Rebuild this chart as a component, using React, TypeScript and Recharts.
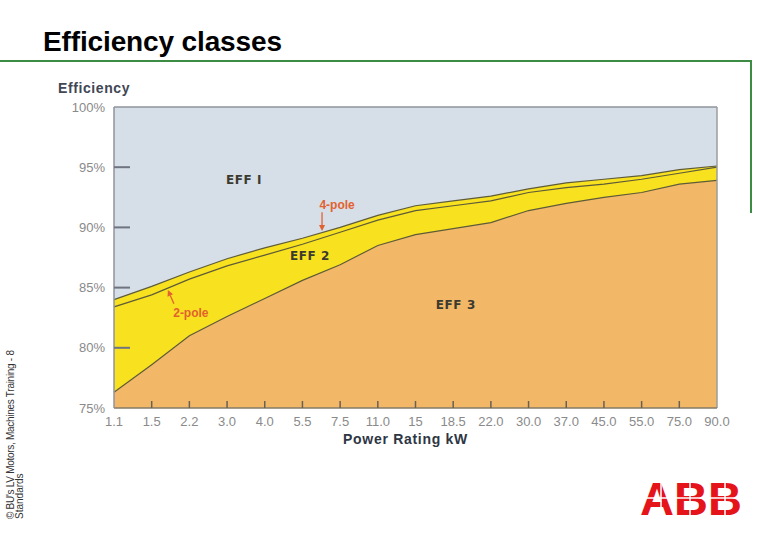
import React from 'react';
import {
  ComposedChart,
  Area,
  Line,
  XAxis,
  YAxis,
  CartesianGrid,
  ReferenceLine,
  ReferenceDot,
} from 'recharts';

// power ratings on the x axis (kW)
const powerRatings = [
  '1.1', '1.5', '2.2', '3.0', '4.0', '5.5', '7.5', '11.0', '15',
  '18.5', '22.0', '30.0', '37.0', '45.0', '55.0', '75.0', '90.0',
];

// EFF1 / EFF2 border (4-pole), %
const eff1Limit = [
  84.0, 85.1, 86.3, 87.4, 88.3, 89.1, 90.0, 91.0, 91.8,
  92.2, 92.6, 93.2, 93.7, 94.0, 94.3, 94.8, 95.1,
];

// EFF1 / EFF2 border (2-pole), %
const twoPoleLimit = [
  83.4, 84.4, 85.7, 86.8, 87.7, 88.6, 89.6, 90.6, 91.4,
  91.8, 92.2, 92.9, 93.3, 93.6, 94.0, 94.5, 95.0,
];

// EFF2 / EFF3 border, %
const eff2Limit = [
  76.3, 78.6, 81.0, 82.6, 84.1, 85.6, 86.9, 88.5, 89.4,
  89.9, 90.4, 91.4, 92.0, 92.5, 92.9, 93.6, 93.9,
];

const yTicks = [75, 80, 85, 90, 95, 100];

const data = powerRatings.map((p, i) => ({
  i,
  kw: p,
  eff1: eff1Limit[i],
  twoPole: twoPoleLimit[i],
  eff2: eff2Limit[i],
}));

const SKY = '#d6dee7';
const YELLOW = '#f8e11f';
const ORANGE = '#f2b867';
const EDGE = '#5e5b38';
const TICK_TXT = '#8a8a8a';
const POLE = '#e2622f';

const YTick = (props: any) => {
  const { x, y, payload } = props;
  return (
    <g>
      <text x={x} y={y} dy="0.35em" textAnchor="end" fontSize={13} fill={TICK_TXT}
        fontFamily="Liberation Sans, Arial, sans-serif">
        {payload.value}%
      </text>
      {payload.value > 75 && payload.value < 100 && (
        <line x1={x + 9} x2={x + 25} y1={y} y2={y} stroke="#6f7480" strokeWidth={2} />
      )}
    </g>
  );
};

const XTick = (props: any) => {
  const { x, y, payload } = props;
  return (
    <g>
      <text x={x} y={y} dy="0.75em" textAnchor="middle" fontSize={13} fill={TICK_TXT}
        fontFamily="Liberation Sans, Arial, sans-serif">
        {powerRatings[payload.value]}
      </text>
      {payload.value > 0 && payload.value < 16 && (
        <line x1={x} x2={x} y1={y - 8} y2={y - 15} stroke="#6a6152" strokeWidth={1.5} />
      )}
    </g>
  );
};

const Arrow = (props: any) => {
  const { x1, y1, x2, y2 } = props;
  const ang = Math.atan2(y2 - y1, x2 - x1);
  const len = 6;
  const w = 3;
  const bx = x2 - len * Math.cos(ang);
  const by = y2 - len * Math.sin(ang);
  const px = -Math.sin(ang) * w;
  const py = Math.cos(ang) * w;
  return (
    <g>
      <line x1={x1} y1={y1} x2={bx} y2={by} stroke={POLE} strokeWidth={1.3} />
      <polygon points={`${x2},${y2} ${bx + px},${by + py} ${bx - px},${by - py}`} fill={POLE} />
    </g>
  );
};

const effLabel = (value: string) => ({
  value,
  position: 'center' as const,
  fill: '#3b3a30',
  fontSize: 12,
  fontWeight: 'bold',
  letterSpacing: 0.6,
  fontFamily: 'DejaVu Sans, sans-serif',
});

const poleLabel = (value: string) => ({
  value,
  position: 'center' as const,
  fill: POLE,
  fontSize: 12,
  fontWeight: 'bold',
  fontFamily: 'Liberation Sans, Arial, sans-serif',
});

export default function App() {
  return (
    <div style={{ position: 'absolute', left: 0, top: 0, width: 780, height: 540, background: '#fff' }}>
      <ComposedChart
        width={780}
        height={540}
        data={data}
        margin={{ top: 107, right: 63, bottom: 106, left: 54 }}
      >
        <CartesianGrid horizontal={false} vertical={false} fill={SKY} fillOpacity={1} />
        <Area
          type="linear"
          dataKey="eff1"
          stroke={EDGE}
          strokeWidth={1.2}
          fill={YELLOW}
          fillOpacity={1}
          isAnimationActive={false}
        />
        <Line
          type="linear"
          dataKey="twoPole"
          stroke={EDGE}
          strokeWidth={1.2}
          dot={false}
          isAnimationActive={false}
        />
        <Area
          type="linear"
          dataKey="eff2"
          stroke={EDGE}
          strokeWidth={1.2}
          fill={ORANGE}
          fillOpacity={1}
          isAnimationActive={false}
        />
        <XAxis
          dataKey="i"
          type="number"
          domain={[0, 16]}
          ticks={powerRatings.map((_, i) => i)}
          interval={0}
          height={26}
          tickSize={0}
          tickMargin={8}
          tickLine={false}
          tick={<XTick />}
          axisLine={{ stroke: '#857a66', strokeWidth: 1.5 }}
          label={{
            value: 'Power Rating kW',
            position: 'bottom',
            offset: 0,
            dx: -10,
            fill: '#2e3644',
            fontSize: 14,
            fontWeight: 'bold',
            letterSpacing: 0.7,
            fontFamily: 'Liberation Sans, Arial, sans-serif',
          }}
        />
        <YAxis
          type="number"
          domain={[75, 100]}
          ticks={yTicks}
          interval={0}
          width={60}
          tickSize={0}
          tickMargin={9}
          tickLine={false}
          tick={<YTick />}
          axisLine={{ stroke: '#8f949c', strokeWidth: 1.5 }}
        />
        <ReferenceLine y={100} stroke="#8f949c" strokeWidth={1.5} />
        <ReferenceLine x={16} stroke="#9c9c9c" strokeWidth={1.5} />
        <ReferenceLine segment={[{ x: 5.52, y: 91.25 }, { x: 5.52, y: 89.7 }]} shape={<Arrow />} />
        <ReferenceLine segment={[{ x: 1.59, y: 83.65 }, { x: 1.43, y: 84.8 }]} shape={<Arrow />} />
        <ReferenceDot x={3.45} y={94.0} r={0} fill="none" stroke="none" label={effLabel('EFF I')} />
        <ReferenceDot x={5.2} y={87.65} r={0} fill="none" stroke="none" label={effLabel('EFF 2')} />
        <ReferenceDot x={9.07} y={83.6} r={0} fill="none" stroke="none" label={effLabel('EFF 3')} />
        <ReferenceDot x={5.92} y={91.85} r={0} fill="none" stroke="none" label={poleLabel('4-pole')} />
        <ReferenceDot x={2.04} y={82.9} r={0} fill="none" stroke="none" label={poleLabel('2-pole')} />
      </ComposedChart>

      <svg
        width={780}
        height={540}
        style={{ position: 'absolute', left: 0, top: 0, pointerEvents: 'none' }}
        fontFamily="Liberation Sans, Arial, sans-serif"
      >
        <text x={43} y={51} fontSize={28} fontWeight="bold" fill="#000" textLength={239}>
          Efficiency classes
        </text>
        <polyline points="0,61 751,61 751,213" fill="none" stroke="#3d8c43" strokeWidth={2} />
        <text x={58} y={93} fontSize={14} fontWeight="bold" letterSpacing={0.6} fill="#414755">
          Efficiency
        </text>
        <g transform="translate(14,519) rotate(-90)">
          <text x={0} y={0} fontSize={10} fill="#333" textLength={169}>
            © BU's LV Motors, Machines Training - 8
          </text>
        </g>
        <g transform="translate(23,519) rotate(-90)">
          <text x={0} y={0} fontSize={10} fill="#333">
            Standards
          </text>
        </g>
        <text x={640} y={515} fontSize={47} fontWeight="bold" fill="#e5141b">
          ABB
        </text>
        <line x1={636} x2={746} y1={498} y2={498} stroke="#fff" strokeWidth={1.5} />
        <line x1={661} x2={661} y1={478} y2={518} stroke="#fff" strokeWidth={1.5} />
        <line x1={690} x2={690} y1={478} y2={518} stroke="#fff" strokeWidth={1.5} />
        <line x1={725} x2={725} y1={478} y2={518} stroke="#fff" strokeWidth={1.5} />
      </svg>
    </div>
  );
}
